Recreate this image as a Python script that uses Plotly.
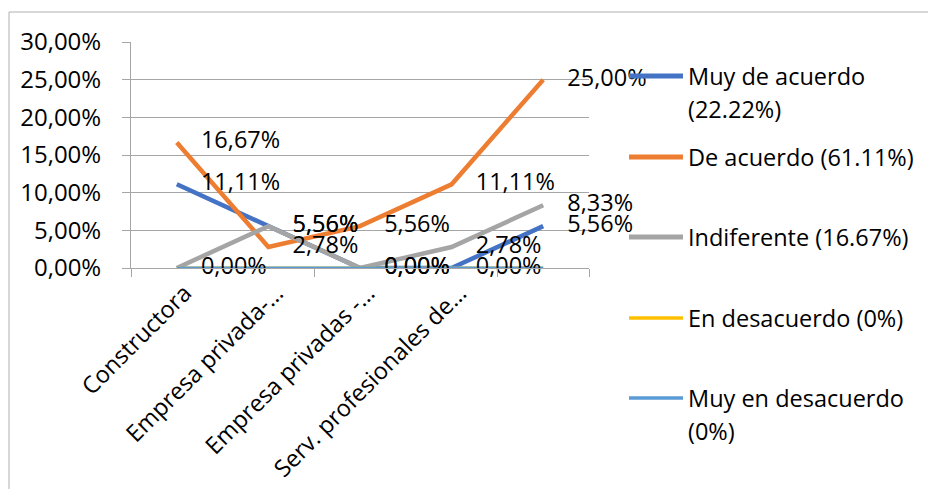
import plotly.graph_objects as go

# ---------------- data ----------------
categories = ["Constructora", "Empresa privada-…", "Empresa privadas -…",
              "Serv. profesionales de…", ""]
series_names = ["Muy de acuerdo (22.22%)", "De acuerdo (61.11%)", "Indiferente (16.67%)",
                "En desacuerdo (0%)", "Muy en desacuerdo (0%)"]
legend_lines = [["Muy de acuerdo", "(22.22%)"], ["De acuerdo (61.11%)"],
                ["Indiferente (16.67%)"], ["En desacuerdo (0%)"],
                ["Muy en desacuerdo", "(0%)"]]
muy_de_acuerdo = [0.1111, 0.0556, 0.0, 0.0, 0.0556]
de_acuerdo = [0.1667, 0.0278, 0.0556, 0.1111, 0.25]
indiferente = [0.0, 0.0556, 0.0, 0.0278, 0.0833]
en_desacuerdo = [0.0, 0.0, 0.0, 0.0, 0.0]
muy_en_desacuerdo = [0.0, 0.0, 0.0, 0.0, 0.0]
values = [muy_de_acuerdo, de_acuerdo, indiferente, en_desacuerdo, muy_en_desacuerdo]
show_labels = [True, True, True, False, False]
y_ticks = [0.0, 0.05, 0.10, 0.15, 0.20, 0.25, 0.30]

# ---------------- style ----------------
colors = ["#4472C4", "#ED7D31", "#A5A5A5", "#FFC000", "#5B9BD5"]
widths = [4.5, 4.5, 4.5, 3, 3]
FONT = "Open Sans"
FS = 23.5
GRID = "#A6A6A6"

W, H = 928, 489
L, R, T, B = 131, 589, 42, 268
PW, PH = R - L, B - T

def px_x(px):
    return (px - L) / PW

def px_y(py):
    return (B - py) / PH

x = list(range(len(categories)))
fig = go.Figure()

for name, vals, c, w in zip(series_names, values, colors, widths):
    fig.add_trace(go.Scatter(x=x, y=vals, mode="lines", name=name,
                             line=dict(color=c, width=w), showlegend=False,
                             hoverinfo="skip"))

for name, vals, show in zip(series_names, values, show_labels):
    if not show:
        continue
    fig.add_trace(go.Scatter(x=x, y=vals, mode="markers+text", name=name,
                             marker=dict(size=37, opacity=0),
                             texttemplate="%{y:.2%}", textposition="middle right",
                             textfont=dict(family=FONT, size=FS, color="#000000"),
                             showlegend=False, hoverinfo="skip", cliponaxis=False))

shapes = []
annotations = []
# outer chart border
shapes.append(dict(type="rect", xref="paper", yref="paper",
                   x0=px_x(9), x1=px_x(W + 20), y0=px_y(H + 20), y1=px_y(12),
                   line=dict(color="#B0B0B0", width=1), fillcolor="rgba(0,0,0,0)",
                   layer="below"))

# custom legend
legend_y = [76, 157, 237, 318, 398]
line_gap = 33
for lines, c, w, ly in zip(legend_lines, colors, widths, legend_y):
    shapes.append(dict(type="line", xref="paper", yref="paper",
                       x0=px_x(629), x1=px_x(683), y0=px_y(ly), y1=px_y(ly),
                       line=dict(color=c, width=w + 0.5)))
    for i, t in enumerate(lines):
        annotations.append(dict(text=t, xref="paper", yref="paper",
                                x=px_x(686), y=px_y(ly + i * line_gap),
                                xanchor="left", yanchor="middle", showarrow=False,
                                font=dict(family=FONT, size=FS, color="#000000")))

fig.update_layout(
    width=W, height=H,
    margin=dict(l=L, r=W - R, t=T, b=H - B, pad=0),
    paper_bgcolor="white", plot_bgcolor="white",
    separators=",.",
    font=dict(family=FONT, size=FS, color="#000000"),
    showlegend=False,
    shapes=shapes, annotations=annotations,
    xaxis=dict(range=[-0.5, len(categories) - 0.5], tickmode="array",
               tickvals=x, ticktext=categories, tickangle=-45, automargin=False,
               showgrid=False, zeroline=False, showline=True, linecolor=GRID,
               linewidth=1, ticks="", ticklabelstandoff=1, ticklabelshift=8,
               minor=dict(tickmode="array", tickvals=[-0.5, 1.5, 3.5, 4.5],
                          ticks="outside", ticklen=8, tickcolor=GRID, tickwidth=1,
                          showgrid=False),
               tickfont=dict(family=FONT, size=FS, color="#000000"),
               fixedrange=True),
    yaxis=dict(range=[0, 0.30], tickmode="array", tickvals=y_ticks, automargin=False,
               tickformat=".2%", showgrid=True, gridcolor=GRID, gridwidth=1,
               zeroline=False, showline=True, linecolor=GRID, linewidth=1,
               ticks="outside", ticklen=8, tickcolor=GRID, ticklabelstandoff=16,
               tickfont=dict(family=FONT, size=FS + 0.5, color="#000000"),
               fixedrange=True),
)

fig.write_html("out.html")
